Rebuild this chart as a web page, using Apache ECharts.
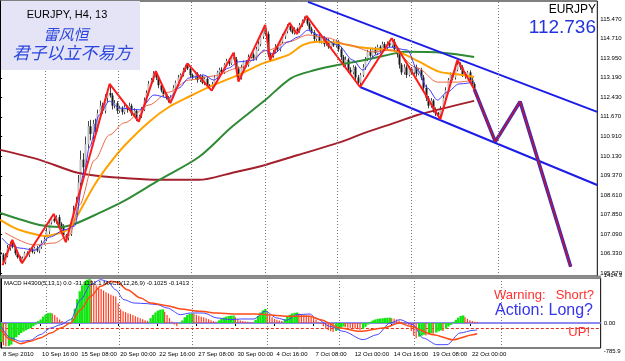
<!DOCTYPE html>
<html>
<head>
<meta charset="utf-8">
<title>EURJPY H4</title>
<script src="https://cdn.jsdelivr.net/npm/echarts@6/dist/echarts.min.js"></script>
<style>
html,body{margin:0;padding:0;background:#fff;}
#main{width:625px;height:361px;}
</style>
</head>
<body>
<div id="main"></div>
<script>
// ---- price data (H4 bars, index 0 = 8 Sep 2010) ----
var firstOpen = 106.40;
var closes = [
  106.30,106.00,106.25,106.55,106.70,106.60,106.35,106.20,106.05,106.15,
  106.35,106.30,106.50,106.40,106.55,106.45,106.60,106.75,106.90,107.20,
  107.55,107.70,107.60,107.75,107.50,107.40,107.05,106.95,107.10,107.50,
  108.00,108.30,109.10,110.00,109.70,110.60,111.30,111.00,111.40,111.20,
  111.80,112.10,111.90,112.40,112.60,112.50,112.10,112.20,111.90,112.00,
  111.85,112.05,111.95,112.10,111.80,111.90,111.60,111.70,111.95,112.30,
  112.60,112.95,113.10,113.35,113.20,112.90,112.70,112.55,112.40,112.30,
  112.45,112.80,113.00,113.20,113.30,113.50,113.65,113.55,113.30,113.20,
  113.35,113.10,113.25,113.00,113.15,112.90,112.85,112.95,113.20,113.40,
  113.50,113.40,113.70,113.85,113.75,114.00,113.90,113.55,113.20,113.60,
  113.80,113.70,114.00,114.10,113.95,114.30,114.50,114.80,115.10,114.90,
  114.10,114.05,114.20,114.40,114.30,114.60,114.80,115.00,115.20,115.05,
  114.95,115.10,115.00,115.25,115.40,115.50,115.30,115.10,114.95,114.70,
  114.80,114.60,114.75,114.50,114.65,114.40,114.55,114.45,114.60,114.30,
  114.00,113.70,113.90,113.50,113.40,113.60,113.20,113.00,113.30,113.60,
  113.90,114.20,114.05,114.30,114.15,114.40,114.25,114.50,114.35,114.55,
  114.45,114.60,114.30,114.10,113.70,113.40,113.60,113.30,113.55,113.40,
  113.60,113.35,113.50,113.20,112.80,112.40,112.10,112.30,111.95,111.80,
  111.75,112.00,112.40,112.70,113.10,113.30,113.20,113.50,113.70,113.60,
  113.30,113.25,113.40,113.10,112.95,112.736
];
var wickUp = [
  .08,.06,.10,.12,.10,.17,.06,.08,.05,.07, .06,.08,.05,.10,.06,.08,.07,.10,.12,.15,
  .12,.10,.18,.08,.10,.06,.08,.05,.10,.15, .20,.25,.30,.35,.25,.30,.20,.25,.15,.20,
  .15,.20,.12,.15,.10,.35,.10,.12,.08,.10, .08,.10,.06,.12,.08,.10,.06,.05,.10,.12,
  .10,.12,.08,.10,.10,.06,.08,.05,.06,.08, .06,.10,.08,.10,.06,.08,.05,.10,.08,.06,
  .10,.06,.08,.05,.08,.06,.05,.08,.10,.06, .08,.10,.06,.08,.10,.06,.17,.10,.08,.10,
  .06,.08,.10,.06,.08,.10,.12,.10,.08,.15, .10,.06,.08,.10,.06,.08,.10,.06,.08,.13,
  .08,.06,.05,.08,.06,.08,.10,.06,.08,.10, .06,.10,.08,.06,.10,.08,.06,.10,.08,.06,
  .10,.08,.12,.06,.10,.08,.06,.10,.08,.12, .10,.08,.12,.06,.10,.08,.06,.10,.08,.06,
  .08,.13,.10,.08,.10,.06,.12,.08,.10,.06, .08,.10,.06,.08,.10,.12,.08,.10,.06,.08,
  .06,.08,.10,.12,.08,.10,.06,.08,.18,.10, .08,.10,.06,.08,.10,.06
];
var wickDn = [
  .06,.11,.08,.06,.10,.06,.08,.06,.05,.09, .08,.06,.10,.06,.08,.06,.10,.08,.06,.08,
  .10,.08,.06,.10,.08,.12,.08,.17,.10,.08, .10,.15,.20,.15,.25,.20,.15,.25,.20,.15,
  .10,.15,.12,.10,.15,.08,.15,.10,.12,.08, .10,.08,.12,.06,.10,.08,.10,.12,.08,.06,
  .08,.10,.06,.08,.10,.12,.08,.10,.06,.08, .10,.06,.08,.06,.10,.06,.08,.06,.10,.08,
  .06,.10,.08,.06,.10,.08,.06,.16,.08,.06, .10,.08,.06,.08,.10,.06,.08,.10,.16,.08,
  .06,.10,.08,.06,.10,.08,.06,.08,.10,.06, .10,.17,.08,.06,.10,.08,.06,.10,.08,.06,
  .06,.08,.10,.06,.08,.06,.08,.10,.06,.08, .10,.06,.08,.10,.06,.08,.10,.06,.08,.10,
  .12,.10,.08,.12,.10,.08,.12,.10,.17,.08, .10,.06,.08,.10,.06,.08,.10,.06,.08,.06,
  .08,.06,.10,.12,.15,.10,.08,.12,.06,.10, .08,.12,.06,.10,.15,.12,.10,.08,.12,.10,
  .10,.18,.08,.10,.08,.06,.10,.08,.06,.10, .08,.10,.06,.12,.08,.06
];

// zigzag, channel and projection [bar, price]
var zigzag = [[1,105.89],[5,106.87],[9,105.96],[22,107.88],[27,106.78],[45,112.95],[57,111.48],
  [64,113.45],[70,112.20],[77,113.75],[87,112.69],[96,114.17],[98,113.04],[109,115.25],[111,113.88],
  [119,115.33],[122,114.90],[126,115.60],[148,112.83],[161,114.73],[181,111.57],[188,113.88],[195,112.736]];
var projection = [[195,112.736],[203.6,110.70],[213.8,112.26],[234.6,105.82]];
var channelUp = [[126.6,116.15],[245.5,111.86]];
var channelDn = [[148,112.83],[245.5,109.01]];

// moving averages [bar, price]
var maBlue = [[0.8,106.94],[4,106.67],[8.1,106.55],[14.2,106.47],[20.4,106.98],[26.5,107.26],[30.6,107.41],
  [34.7,109.59],[36.7,110.49],[40.8,111.74],[44.9,112.28],[49,112.01],[57.2,111.94],[63.3,112.52],[69.4,112.40],
  [73.5,112.79],[77.6,113.18],[83.7,113.30],[87.8,113.10],[93.9,113.57],[98,113.81],[104.2,113.88],[108.6,114.27],
  [112.3,114.12],[118.5,114.59],[122.5,114.78],[126.6,115.05],[130.7,114.86],[138.9,114.47],[145,113.88],
  [149.1,113.49],[154.4,114.08],[160.1,114.39],[167.5,114.27],[171.6,113.49],[175.7,112.79],[179.8,112.32],
  [183.8,112.63],[188.7,112.95],[194.9,113.02]];
var maSalmon = [[2,107.15],[14.2,106.67],[22.4,106.75],[28.5,107.06],[32.6,108.23],[38.8,109.98],[44.9,110.96],
  [51,111.43],[61.2,112.13],[69.4,112.63],[77.6,113.10],[87.8,113.26],[98,113.57],[110.3,114.27],[118.5,114.59],
  [126.6,114.86],[134.8,114.74],[143,114.47],[153.2,114.20],[161.4,114.27],[171.6,113.57],[179.8,113.02],
  [187.9,113.02],[194.9,113.10]];
var maOrange = [[0,107.65],[6.1,107.33],[12.2,107.14],[18.3,107.02],[24.5,107.14],[28.5,107.33],[32.6,107.96],
  [38.8,109.01],[44.9,109.83],[51,110.53],[61.2,111.47],[69.4,112.05],[77.6,112.45],[87.8,112.91],[98,113.30],
  [102.1,113.49],[108.6,113.77],[118.5,114.08],[124.6,114.47],[130.7,114.59],[138.9,114.55],[147.1,114.39],
  [155.2,114.31],[163.4,114.21],[172.3,113.82],[180.4,113.43],[190,113.30],[194.9,113.22]];
var maGreen = [[0,107.92],[16.3,107.45],[24.5,107.37],[30.6,107.49],[40.8,107.92],[51,108.39],[65.3,109.20],
  [81.7,110.10],[95.2,111.27],[109,112.32],[119.7,113.18],[129.5,113.49],[138.9,113.69],[149.9,113.88],
  [163.4,114.16],[166.3,114.20],[182.6,114.16],[194.9,114.00]];
var maMaroon = [[0,110.38],[16.3,109.99],[30.6,109.52],[40.8,109.36],[51,109.28],[65.3,109.21],[81.7,109.21],
  [95.2,109.48],[109,109.79],[122.5,110.18],[138.9,110.65],[149.9,111.04],[163.4,111.47],[171.6,111.74],[194.9,112.29]];

// MACD panel
var macdHist = [
  -600,-700,-730,-720,-680,-560,-450,-380,-315,-270, -230,-190,-157,-100,-52,60,110,200,270,310,
  320,300,250,180,110,60,10,-40,-20,150, 450,750,1000,1180,1300,1360,1380,1340,1250,1180,
  1120,1070,1020,970,930,890,860,830,620,430, 370,340,310,280,250,210,180,150,120,90,
  70,150,250,330,390,420,430,350,250,150, 50,-50,-100,-20,80,180,250,290,300,280,
  260,230,200,180,150,120,90,60,40,80, 130,170,200,220,230,235,180,120,80,60,
  50,40,30,20,100,220,330,400,440,330, 240,180,130,100,80,60,120,200,260,300,
  320,330,300,280,260,240,230,210,150,100, 40,-30,-100,-170,-230,-260,-280,-250,-200,-150,
  -110,-130,-150,-160,-170,-180,-200,-220,-180,-120, -50,40,80,110,130,140,150,160,165,170,
  150,130,110,80,40,20,-20,-60,-250,-400, -480,-430,-400,-370,-390,-350,-320,-340,-300,-260,
  -230,-250,-180,-110,-60,20,100,170,220,240, 180,130,90,60,40,30
];
var macdMain = [[0,-105],[4,-472],[8,-576],[12,-545],[16,-367],[20.4,-157],[24.5,-52],[28.5,105],[32.6,734],
  [36.7,1205],[40.8,1362],[43.5,1310],[46.9,1048],[50.3,734],[54.4,629],[59.9,608],[64,576],[68,472],[73.5,262],
  [77.6,314],[83,314],[88.5,157],[94,105],[98,126],[103.5,126],[108.2,367],[113,157],[117,84],[121.2,262],
  [126.6,283],[128.7,157],[134.8,-105],[140.1,-262],[148.3,-524],[154,-367],[159.3,0],[163.4,105],[168.7,-52],
  [172.8,-472],[178.5,-681],[182.6,-681],[188,-314],[193.3,-231],[195,-220]];
var macdSignal = [[0,-210],[4,-524],[8,-650],[12,-576],[16,-472],[20.4,-314],[24.5,-157],[28.5,0],[32.6,419],
  [36.7,838],[40.8,1153],[45,1310],[47.6,1278],[51.7,1048],[57.2,786],[61.2,629],[68,545],[73.5,440],[81.7,367],
  [88.5,314],[95.2,283],[103.5,283],[108.9,262],[117,210],[126.6,210],[130.7,105],[138.9,-157],[147.1,-262],
  [156.5,-157],[163.4,0],[167.5,-105],[177,-367],[185.1,-524],[193.3,-367],[195,-340]];
var macdLevel = -157;

// axes
var priceTicks = [115.47,114.71,113.95,113.19,112.43,111.67,110.91,110.13,109.37,108.61,107.85,107.09,106.33,105.57];
var macdTicks = [1414.3,-785.9];
var dateBars = [0,16,32,48,64,80,96,112,128,144,160,176,192];
var dateLabels = ['8 Sep 2010','10 Sep 16:00','15 Sep 08:00','20 Sep 00:00','22 Sep 16:00','27 Sep 08:00',
  '30 Sep 00:00','4 Oct 16:00','7 Oct 08:00','12 Oct 00:00','14 Oct 16:00','19 Oct 08:00','22 Oct 00:00'];
var weekBars = [18.7,48.6,78.4,109.1,138.5,169.2,204.7];

// ---- build ----
var candles = [];
var prev = firstOpen;
for (var i = 0; i < closes.length; i++) {
  var o = prev, c = closes[i];
  candles.push([i, o, c, Math.min(o, c) - wickDn[i], Math.max(o, c) + wickUp[i]]);
  prev = c;
}
var lastClose = closes[closes.length - 1];

var histUp = [], histDn = [];
for (var j = 0; j < macdHist.length; j++) {
  var v = macdHist[j], p = j ? macdHist[j - 1] : v;
  if (v >= p) histUp.push([j, v]); else histDn.push([j, v]);
}

function renderCandle(params, api) {
  var x = api.value(0), o = api.value(1), c = api.value(2), lo = api.value(3), hi = api.value(4);
  var pH = api.coord([x, hi]), pL = api.coord([x, lo]);
  var pO = api.coord([x, o]), pC = api.coord([x, c]);
  var cx = Math.round(pH[0]) + 0.5;
  var top = Math.min(pO[1], pC[1]), bot = Math.max(pO[1], pC[1]);
  var bull = c >= o;
  return {
    type: 'group',
    children: [
      {type: 'line', shape: {x1: cx, y1: pH[1], x2: cx, y2: pL[1]}, style: {stroke: '#444', lineWidth: 1}},
      {type: 'rect', shape: {x: cx - 1, y: top, width: 2, height: Math.max(bot - top, 1)},
        style: {fill: bull ? '#bdbdbd' : '#1a1a1a'}}
    ]
  };
}

var xMin = -0.06, xMax = 245.55;
var smallFont = 'Liberation Sans';

function line(name, data, color, width, smooth, mono) {
  return {name: name, type: 'line', xAxisIndex: 0, yAxisIndex: 0, data: data, symbol: 'none',
    smooth: smooth, smoothMonotone: mono ? 'x' : null, lineStyle: {color: color, width: width}, silent: true};
}

var weekLines = {
  silent: true, symbol: ['none', 'none'], label: {show: false},
  lineStyle: {color: '#777', type: [1, 2], width: 1},
  data: weekBars.map(function (b) { return {xAxis: b}; })
};

var series = [
  {type: 'custom', xAxisIndex: 0, yAxisIndex: 0, data: candles, renderItem: renderCandle,
    encode: {x: 0, y: [1, 2, 3, 4]}, silent: true},
  line('ma200', maMaroon, '#a3202c', 2, 0.3, false),
  Object.assign(line('ma100', maGreen, '#2f8a35', 2, 0.3, false), {markLine: weekLines}),
  line('ma34', maOrange, '#ffa200', 2, 0.3, false),
  line('ma21', maSalmon, '#ee6a45', 1, 0.3, true),
  line('ma8', maBlue, '#3c3cff', 1, 0.3, true),
  line('upper', channelUp, '#1c1ce8', 2, false),
  line('lower', channelDn, '#1c1ce8', 2, false),
  Object.assign(line('zigzag', zigzag, '#ff1a1a', 2, false), {
    markLine: {silent: true, symbol: ['none', 'none'], lineStyle: {opacity: 0},
      data: [{yAxis: lastClose}],
      label: {show: true, position: 'end', distance: 2, formatter: lastClose.toFixed(3),
        backgroundColor: '#000', color: '#fff', fontSize: 6, fontFamily: smallFont, padding: [1, 2]}}
  }),
  line('projBlue', projection, '#2d2dd6', 3.5, false),
  line('projRed', projection, '#c4142c', 1.6, false),
  {name: 'histUp', type: 'bar', xAxisIndex: 1, yAxisIndex: 1, data: histUp, barWidth: 2.4,
    itemStyle: {color: '#12e612'}, silent: true,
    markLine: {silent: true, z: 1, symbol: ['none', 'none'], label: {show: false},
      data: [
        {yAxis: 0, lineStyle: {color: '#8c8cf0', width: 2, type: 'solid'},
          label: {show: true, position: 'end', distance: 3, formatter: '0.00', color: '#000', fontSize: 6, fontFamily: smallFont}},
        {yAxis: macdLevel, lineStyle: {color: '#e0301c', width: 1, type: [3, 2]}}
      ]}},
  {name: 'histDn', type: 'bar', xAxisIndex: 1, yAxisIndex: 1, data: histDn, barWidth: 1.2, barGap: '-100%',
    itemStyle: {color: '#ff3b1f'}, silent: true, markLine: weekLines},
  {name: 'macd', type: 'line', xAxisIndex: 1, yAxisIndex: 1, data: macdMain, symbol: 'none', smooth: 0.3,
    smoothMonotone: 'x', lineStyle: {color: '#4646ff', width: 1}, silent: true},
  {name: 'signal', type: 'line', xAxisIndex: 1, yAxisIndex: 1, data: macdSignal, symbol: 'none', smooth: 0.3,
    smoothMonotone: 'x', lineStyle: {color: '#ff4a1a', width: 1.5}, silent: true}
];

var chart = echarts.init(document.getElementById('main'), null, {renderer: 'canvas'});
chart.setOption({
  animation: false,
  backgroundColor: '#fff',
  grid: [
    {left: 0, top: 1, width: 601, height: 275, show: true, borderColor: '#000', borderWidth: 1, backgroundColor: '#fff'},
    {left: 0, top: 278, width: 601, height: 70, show: true, borderColor: '#000', borderWidth: 1, backgroundColor: '#fff'}
  ],
  xAxis: [
    {type: 'value', gridIndex: 0, min: xMin, max: xMax, show: false},
    {type: 'value', gridIndex: 1, min: xMin, max: xMax, splitLine: {show: false},
      axisLine: {show: true, lineStyle: {color: '#000'}},
      axisTick: {show: true, customValues: dateBars, length: 3, lineStyle: {color: '#000'}},
      axisLabel: {customValues: dateBars, align: 'left', fontSize: 6, fontFamily: smallFont, color: '#000', margin: 3,
        padding: [0, 0, 0, 2],
        formatter: function (v) { var k = dateBars.indexOf(Math.round(v)); return k >= 0 ? dateLabels[k] : ''; }}}
  ],
  yAxis: [
    {type: 'value', gridIndex: 0, position: 'right', min: 105.462, max: 116.183, splitLine: {show: false},
      axisLine: {show: true, lineStyle: {color: '#000'}},
      axisTick: {show: true, customValues: priceTicks, length: 2, lineStyle: {color: '#000'}},
      axisLabel: {customValues: priceTicks, fontSize: 6, fontFamily: smallFont, color: '#000', margin: 3,
        formatter: function (v) { return v.toFixed(3); }}},
    {type: 'value', gridIndex: 1, position: 'right', min: -785.9, max: 1414.3, splitLine: {show: false},
      axisLine: {show: true, lineStyle: {color: '#000'}},
      axisTick: {show: false},
      axisLabel: {customValues: macdTicks, fontSize: 6, fontFamily: smallFont, color: '#000', margin: 3,
        verticalAlignMaxLabel: 'top', verticalAlignMinLabel: 'bottom',
        formatter: function (v) { return v.toFixed(1); }}}
  ],
  series: series,
  graphic: [
    {type: 'rect', shape: {x: 1, y: 1, width: 139, height: 69}, style: {fill: '#e4e4f6'}, z: 50, silent: true},
    {type: 'text', x: 67, y: 15, z: 51, style: {text: 'EURJPY, H4, 13', font: '11px "Liberation Sans"', fill: '#000',
      align: 'center', verticalAlign: 'middle'}},
    {type: 'text', x: 66, y: 34, z: 51, style: {text: '雷风恒', font: 'italic 15px "Noto Sans CJK SC"', fill: '#2a44dc',
      align: 'center', verticalAlign: 'middle'}},
    {type: 'text', x: 72, y: 53, z: 51, style: {text: '君子以立不易方', font: 'italic 17px "Noto Sans CJK SC"', fill: '#2a44dc',
      align: 'center', verticalAlign: 'middle'}},
    {type: 'text', x: 596, y: 10, z: 51, style: {text: 'EURJPY', font: '12px "Liberation Sans"', fill: '#000',
      align: 'right', verticalAlign: 'middle'}},
    {type: 'text', x: 596, y: 28, z: 51, style: {text: lastClose.toFixed(3), font: '19px "Liberation Sans"', fill: '#2233dd',
      align: 'right', verticalAlign: 'middle'}},
    {type: 'rect', shape: {x: 0, y: 275.5, width: 601, height: 3}, style: {fill: '#8c8c8c'}, z: 50, silent: true},
    {type: 'text', x: 4, y: 283.5, z: 51, style: {text: 'MACD H4300(5,13,1) 0.0 -31.1131.1 MACD(12,26,9) -0.1025 -0.1413',
      font: '6px "Liberation Sans"', fill: '#000', align: 'left', verticalAlign: 'middle'}},
    {type: 'text', x: 494, y: 295, z: 51, style: {text: 'Warning:', font: '13px "Liberation Sans"', fill: '#ff3030',
      align: 'left', verticalAlign: 'middle'}},
    {type: 'text', x: 594, y: 295, z: 51, style: {text: 'Short?', font: '13px "Liberation Sans"', fill: '#ff3030',
      align: 'right', verticalAlign: 'middle'}},
    {type: 'text', x: 495, y: 311, z: 51, style: {text: 'Action:', font: '16px "Liberation Sans"', fill: '#3535ee',
      align: 'left', verticalAlign: 'middle'}},
    {type: 'text', x: 593, y: 311, z: 51, style: {text: 'Long?', font: '16px "Liberation Sans"', fill: '#3535ee',
      align: 'right', verticalAlign: 'middle'}},
    {type: 'text', x: 590, y: 332, z: 51, style: {text: 'UP!', font: '13px "Liberation Sans"', fill: '#ff3030',
      align: 'right', verticalAlign: 'middle'}}
  ]
});
</script>
</body>
</html>
